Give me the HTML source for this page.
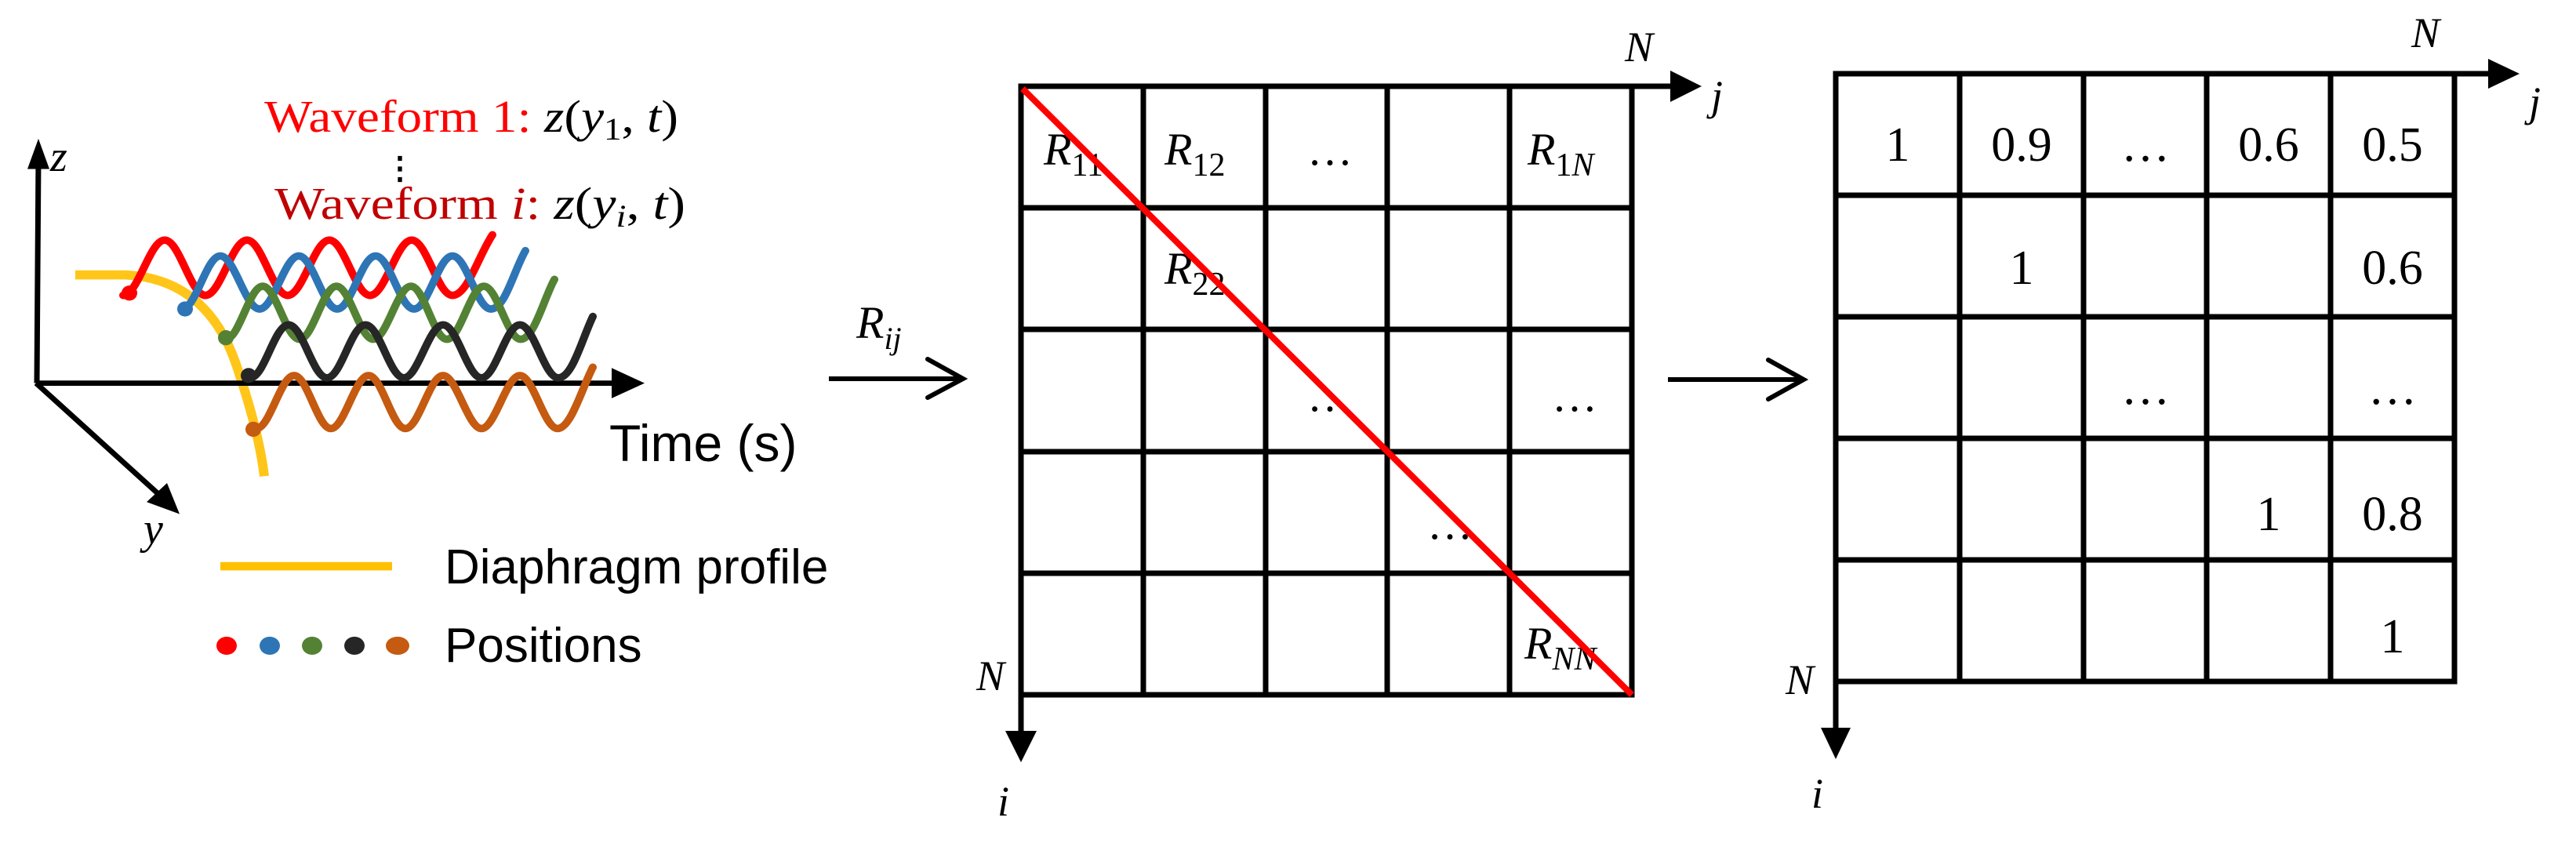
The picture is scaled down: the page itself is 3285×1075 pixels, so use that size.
<!DOCTYPE html>
<html><head><meta charset="utf-8"><style>
html,body{margin:0;padding:0;background:#fff;}
svg{display:block;}
.s{font-family:"Liberation Serif",serif;}
.a{font-family:"Liberation Sans",sans-serif;}
</style></head><body>
<svg width="3285" height="1075" viewBox="0 0 3285 1075" xmlns="http://www.w3.org/2000/svg">
<g transform="matrix(1,0,0,0.965,0,8)">
<path d="M96 355 L160 355 Q 262 360 300 470 Q 330 560 337 621" fill="none" stroke="#FFC000" stroke-width="12" opacity="0.9"/>
<line x1="47" y1="498" x2="49" y2="200" stroke="#000" stroke-width="7"/>
<polygon points="49,175 35,215 63,215" fill="#000"/>
<line x1="46" y1="498" x2="790" y2="498" stroke="#000" stroke-width="7"/>
<polygon points="822,498 780,478 780,518" fill="#000"/>
<line x1="46" y1="498" x2="210" y2="652" stroke="#000" stroke-width="7"/>
<polygon points="229,671 187,655 213,630" fill="#000"/>
<g fill="none" stroke-width="10" stroke-linecap="round">
<path stroke="#FF0000" d="M157 382 C176 382,191 309,210 309 S243 382,262 382 S296 309,315 309 S348 382,367 382 S401 309,420 309 S453 382,472 382 S506 309,525 309 S558 382,577 382 S610 330,628 302"/>
<path stroke="#2E75B6" d="M232 400 C250 400,263 330,281 330 S313 400,331 400 S363 330,381 330 S412 400,430 400 S461 330,479 330 S510 400,528 400 S559 330,577 330 S608 400,626 400 S655 350,670 323"/>
<path stroke="#548235" d="M288 440 C305 440,318 370,335 370 S365 440,382 440 S412 370,429 370 S459 440,476 440 S507 370,524 370 S553 440,570 440 S600 370,617 370 S647 440,664 440 S694 385,707 361"/>
<path stroke="#262626" d="M319 491 C337 491,350 421,368 421 S399 491,417 491 S448 421,466 421 S497 491,515 491 S547 421,565 421 S596 491,614 491 S645 421,663 421 S694 491,712 491 S742 440,756 410"/>
<path stroke="#C55A11" d="M327 558 C344 558,358 488,375 488 S405 558,422 558 S453 488,470 488 S500 558,517 558 S548 488,565 488 S597 558,614 558 S646 488,663 488 S694 558,711 558 S742 505,756 477"/>
</g>
<circle cx="165" cy="379" r="10" fill="#FF0000"/>
<circle cx="236" cy="400" r="10" fill="#2E75B6"/>
<circle cx="288" cy="438" r="10" fill="#548235"/>
<circle cx="317" cy="488" r="10" fill="#262626"/>
<circle cx="323" cy="559" r="10" fill="#C55A11"/>
<line x1="281" y1="740" x2="500" y2="740" stroke="#FFC000" stroke-width="11"/>
<ellipse cx="289" cy="845" rx="13" ry="12" fill="#FF0000"/>
<ellipse cx="344" cy="845" rx="13" ry="12" fill="#2E75B6"/>
<ellipse cx="398" cy="845" rx="13" ry="12" fill="#548235"/>
<ellipse cx="452" cy="845" rx="13" ry="12" fill="#262626"/>
<ellipse cx="507" cy="845" rx="15" ry="12" fill="#C55A11"/>
</g>
<text x="64" y="218" class="s" font-size="56" font-style="italic">z</text>
<text x="183" y="693" class="s" font-size="56" font-style="italic">y</text>
<text x="337" y="168" class="s" font-size="58" textLength="528" lengthAdjust="spacingAndGlyphs"><tspan fill="#FF0000">Waveform 1: </tspan><tspan font-style="italic">z</tspan>(<tspan font-style="italic">y</tspan><tspan font-size="40" dy="10">1</tspan><tspan dy="-10">, </tspan><tspan font-style="italic">t</tspan>)</text>
<text x="490" y="228" class="s" font-size="40" font-weight="bold">⋮</text>
<text x="350" y="279" class="s" font-size="58" textLength="524" lengthAdjust="spacingAndGlyphs"><tspan fill="#C00000">Waveform <tspan font-style="italic">i</tspan>: </tspan><tspan font-style="italic">z</tspan>(<tspan font-style="italic">y</tspan><tspan font-size="40" dy="10" font-style="italic">i</tspan><tspan dy="-10">, </tspan><tspan font-style="italic">t</tspan>)</text>
<text x="777" y="588" class="a" font-size="66">Time (s)</text>
<text x="567" y="744" class="a" font-size="62">Diaphragm profile</text>
<text x="567" y="844" class="a" font-size="62">Positions</text>

<text x="1092" y="431" class="s" font-size="58" font-style="italic">R<tspan font-size="40" dy="14">ij</tspan></text>
<line x1="1057" y1="483" x2="1226" y2="483" stroke="#000" stroke-width="6"/>
<polyline points="1183,458 1228,483 1183,507" fill="none" stroke="#000" stroke-width="6" stroke-linecap="round"/>

<g stroke="#000" stroke-width="7" fill="none">
<rect x="1302" y="110" width="779" height="776"/>
<line x1="1458" y1="110" x2="1458" y2="886"/>
<line x1="1614" y1="110" x2="1614" y2="886"/>
<line x1="1769" y1="110" x2="1769" y2="886"/>
<line x1="1925" y1="110" x2="1925" y2="886"/>
<line x1="1302" y1="265" x2="2081" y2="265"/>
<line x1="1302" y1="420" x2="2081" y2="420"/>
<line x1="1302" y1="576" x2="2081" y2="576"/>
<line x1="1302" y1="731" x2="2081" y2="731"/>
<line x1="2081" y1="110" x2="2140" y2="110"/>
<line x1="1302" y1="886" x2="1302" y2="940"/>
</g>
<polygon points="2170,110 2130,90 2130,130" fill="#000"/>
<polygon points="1302,972 1282,932 1322,932" fill="#000"/>
<text x="2072" y="78" class="s" font-size="54" font-style="italic">N</text>
<text x="2182" y="140" class="s" font-size="54" font-style="italic">j</text>
<text x="1245" y="880" class="s" font-size="54" font-style="italic">N</text>
<text x="1272" y="1040" class="s" font-size="54" font-style="italic">i</text>
<g class="s" font-size="58">
<text x="1331" y="210" font-style="italic">R<tspan font-style="normal" font-size="42" dy="14">11</tspan></text>
<text x="1485" y="210" font-style="italic">R<tspan font-style="normal" font-size="42" dy="14">12</tspan></text>
<text x="1667" y="210">…</text>
<text x="1948" y="210" font-style="italic">R<tspan font-style="normal" font-size="42" dy="14">1</tspan><tspan font-size="42">N</tspan></text>
<text x="1485" y="362" font-style="italic">R<tspan font-style="normal" font-size="42" dy="14">22</tspan></text>
<text x="1667" y="524">…</text>
<text x="1979" y="524">…</text>
<text x="1820" y="687">…</text>
<text x="1944" y="840" font-style="italic">R<tspan font-size="42" dy="14">NN</tspan></text>
</g>
<line x1="1304" y1="113" x2="2081" y2="886" stroke="#FF0000" stroke-width="8"/>

<line x1="2127" y1="484" x2="2298" y2="484" stroke="#000" stroke-width="6"/>
<polyline points="2255,459 2300,484 2255,509" fill="none" stroke="#000" stroke-width="6" stroke-linecap="round"/>

<g stroke="#000" stroke-width="7" fill="none">
<rect x="2341" y="94" width="789" height="775"/>
<line x1="2499" y1="94" x2="2499" y2="869"/>
<line x1="2657" y1="94" x2="2657" y2="869"/>
<line x1="2814" y1="94" x2="2814" y2="869"/>
<line x1="2972" y1="94" x2="2972" y2="869"/>
<line x1="2341" y1="249" x2="3130" y2="249"/>
<line x1="2341" y1="404" x2="3130" y2="404"/>
<line x1="2341" y1="559" x2="3130" y2="559"/>
<line x1="2341" y1="714" x2="3130" y2="714"/>
<line x1="3130" y1="94" x2="3180" y2="94"/>
<line x1="2341" y1="869" x2="2341" y2="930"/>
</g>
<polygon points="3213,94 3173,75 3173,113" fill="#000"/>
<polygon points="2341,968 2322,928 2360,928" fill="#000"/>
<text x="3075" y="60" class="s" font-size="54" font-style="italic">N</text>
<text x="3225" y="148" class="s" font-size="54" font-style="italic">j</text>
<text x="2277" y="885" class="s" font-size="54" font-style="italic">N</text>
<text x="2310" y="1030" class="s" font-size="54" font-style="italic">i</text>
<g class="s" font-size="62" text-anchor="middle">
<text x="2420" y="205">1</text>
<text x="2578" y="205">0.9</text>
<text x="2736" y="205">…</text>
<text x="2893" y="205">0.6</text>
<text x="3051" y="205">0.5</text>
<text x="2578" y="362">1</text>
<text x="3051" y="362">0.6</text>
<text x="2736" y="515">…</text>
<text x="3051" y="515">…</text>
<text x="2893" y="676">1</text>
<text x="3051" y="676">0.8</text>
<text x="3051" y="832">1</text>
</g>
</svg>
</body></html>
